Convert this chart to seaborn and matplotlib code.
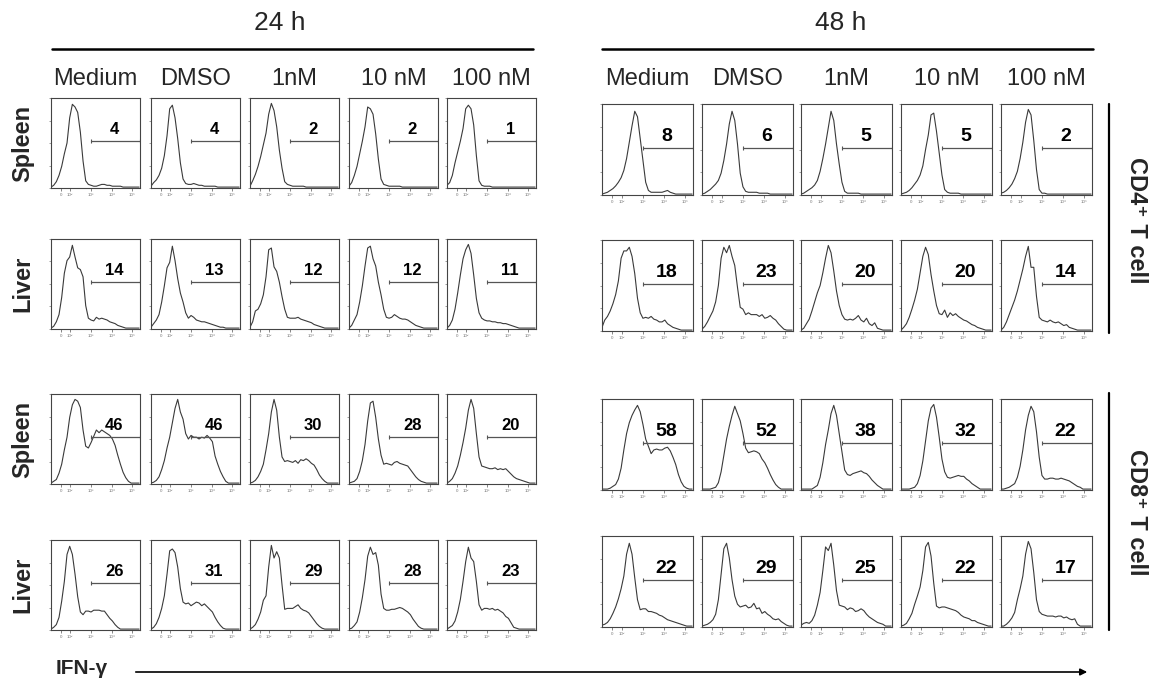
import matplotlib
matplotlib.use("Agg")
import matplotlib.pyplot as plt
import pandas as pd
import seaborn as sns
from matplotlib.lines import Line2D
from matplotlib.patches import FancyArrowPatch

# ---------------- data ----------------
timepoints = ["24 h", "48 h"]
conditions = ["Medium", "DMSO", "1nM", "10 nM", "100 nM"]
tissues = ["Spleen", "Liver", "Spleen", "Liver"]
cell_types = ["CD4\u207a T cell", "CD8\u207a T cell"]
axis_label = "IFN-\u03b3"
tick_labels = ["0", "10\u00b2", "10\u00b3", "10\u2074", "10\u2075"]

# position along the (biexponential) IFN-gamma axis, as a fraction of the panel
x_grid = [0.00, 0.03, 0.06, 0.09, 0.12, 0.15, 0.18, 0.21, 0.24, 0.27, 0.30, 0.33,
          0.36, 0.39, 0.42, 0.45, 0.48, 0.51, 0.54, 0.57, 0.60, 0.63, 0.66, 0.69,
          0.72, 0.75, 0.78, 0.81, 0.84, 0.87, 0.90, 0.93, 0.96, 0.99]

# % of IFN-gamma+ cells (gate values)
pct_cd4_spleen_24h = [4, 4, 2, 2, 1]
pct_cd4_liver_24h = [14, 13, 12, 12, 11]
pct_cd8_spleen_24h = [46, 46, 30, 28, 20]
pct_cd8_liver_24h = [26, 31, 29, 28, 23]
pct_cd4_spleen_48h = [8, 6, 5, 5, 2]
pct_cd4_liver_48h = [18, 23, 20, 20, 14]
pct_cd8_spleen_48h = [58, 52, 38, 32, 22]
pct_cd8_liver_48h = [22, 29, 25, 22, 17]

# histogram heights (% of mode), one list per condition
hist_cd4_spleen_24h = [
    [1, 3, 7, 14, 24, 38, 50, 78, 93, 90, 84, 62, 30, 8, 4, 3, 2, 2, 3, 4, 4, 3, 3, 2, 2, 2, 2, 1, 1, 1, 1, 1, 1, 1],
    [2, 6, 9, 14, 22, 36, 58, 88, 92, 78, 55, 28, 10, 5, 4, 4, 5, 4, 3, 3, 2, 2, 2, 2, 2, 1, 1, 1, 1, 1, 1, 1, 1, 1],
    [2, 8, 15, 24, 35, 48, 61, 82, 94, 86, 68, 42, 22, 7, 4, 3, 2, 2, 2, 2, 2, 1, 1, 1, 1, 1, 1, 1, 1, 1, 1, 1, 1, 1],
    [2, 6, 14, 24, 38, 52, 68, 90, 88, 82, 60, 32, 10, 4, 3, 2, 2, 2, 2, 2, 1, 1, 1, 1, 1, 1, 1, 1, 1, 1, 1, 1, 1, 1],
    [3, 6, 14, 28, 40, 52, 66, 88, 92, 88, 70, 36, 8, 3, 2, 2, 2, 1, 1, 1, 1, 1, 1, 1, 1, 1, 1, 1, 1, 1, 1, 1, 1, 1],
]
hist_cd4_liver_24h = [
    [1, 3, 8, 16, 35, 62, 76, 80, 93, 80, 68, 66, 58, 26, 12, 10, 9, 13, 11, 12, 11, 10, 8, 7, 6, 4, 3, 2, 1, 1, 1, 1, 1, 1],
    [2, 6, 10, 16, 30, 48, 68, 74, 92, 76, 56, 40, 30, 18, 12, 15, 13, 10, 9, 8, 8, 7, 6, 5, 4, 3, 2, 2, 1, 1, 1, 1, 1, 1],
    [2, 8, 20, 22, 28, 38, 58, 88, 90, 69, 64, 52, 36, 22, 13, 12, 12, 12, 13, 11, 10, 9, 8, 7, 5, 4, 3, 2, 1, 1, 1, 1, 1, 1],
    [1, 4, 10, 16, 30, 48, 70, 90, 92, 78, 70, 52, 38, 22, 13, 12, 13, 16, 14, 12, 11, 11, 10, 8, 6, 4, 3, 2, 1, 1, 1, 1, 1, 1],
    [1, 4, 10, 22, 40, 60, 78, 88, 94, 84, 60, 34, 18, 12, 10, 9, 9, 8, 8, 7, 7, 6, 6, 5, 4, 3, 2, 1, 1, 1, 1, 1, 1, 1],
]
hist_cd8_spleen_24h = [
    [1, 3, 5, 12, 22, 38, 52, 74, 88, 94, 92, 85, 60, 42, 40, 46, 53, 60, 57, 60, 58, 56, 54, 50, 43, 32, 22, 13, 7, 3, 1, 1, 1, 1],
    [1, 2, 4, 8, 16, 26, 40, 52, 68, 84, 94, 80, 72, 56, 50, 54, 52, 52, 50, 52, 51, 54, 51, 47, 31, 22, 14, 8, 3, 1, 1, 1, 1, 1],
    [1, 2, 4, 8, 14, 22, 38, 56, 80, 94, 82, 52, 30, 25, 26, 25, 24, 26, 23, 27, 26, 28, 26, 23, 21, 16, 10, 6, 3, 1, 1, 1, 1, 1],
    [1, 2, 3, 6, 14, 26, 44, 70, 90, 92, 74, 50, 32, 22, 23, 22, 21, 24, 25, 23, 22, 21, 20, 16, 12, 8, 5, 3, 2, 1, 1, 1, 1, 1],
    [1, 3, 6, 12, 20, 32, 46, 62, 82, 94, 84, 56, 30, 20, 19, 18, 17, 17, 18, 16, 17, 16, 17, 14, 11, 8, 6, 5, 4, 3, 2, 1, 1, 1],
]
hist_cd8_liver_24h = [
    [1, 3, 6, 14, 32, 54, 84, 93, 84, 62, 37, 20, 17, 21, 21, 20, 22, 22, 22, 21, 21, 17, 13, 10, 6, 3, 1, 1, 1, 1, 1, 1, 1, 1],
    [1, 3, 7, 14, 24, 38, 62, 88, 90, 86, 70, 46, 31, 29, 30, 27, 29, 31, 30, 27, 29, 26, 23, 20, 14, 9, 5, 2, 1, 1, 1, 1, 1, 1],
    [1, 3, 6, 12, 20, 33, 38, 70, 94, 80, 87, 80, 50, 23, 24, 24, 24, 26, 28, 24, 22, 21, 19, 15, 11, 7, 4, 2, 1, 1, 1, 1, 1, 1],
    [1, 2, 5, 9, 20, 36, 56, 82, 92, 84, 86, 72, 40, 24, 22, 22, 23, 23, 24, 25, 24, 22, 20, 17, 12, 8, 4, 2, 1, 1, 1, 1, 1, 1],
    [1, 3, 5, 10, 20, 34, 54, 76, 92, 80, 76, 54, 28, 22, 24, 24, 23, 24, 22, 23, 21, 19, 15, 13, 8, 3, 2, 1, 1, 1, 1, 1, 1, 1],
]
hist_cd4_spleen_48h = [
    [1, 2, 3, 5, 7, 10, 14, 19, 27, 40, 58, 76, 92, 86, 62, 38, 14, 5, 3, 3, 3, 3, 3, 4, 5, 3, 2, 1, 1, 1, 1, 1, 1, 1],
    [1, 2, 4, 6, 9, 12, 16, 24, 38, 56, 78, 92, 82, 56, 24, 9, 4, 3, 3, 3, 3, 2, 2, 2, 2, 1, 1, 1, 1, 1, 1, 1, 1, 1],
    [1, 2, 4, 6, 8, 11, 16, 26, 40, 56, 74, 92, 82, 56, 34, 14, 4, 2, 2, 2, 2, 2, 1, 1, 1, 1, 1, 1, 1, 1, 1, 1, 1, 1],
    [1, 2, 3, 5, 8, 12, 16, 22, 32, 50, 66, 88, 90, 70, 46, 22, 6, 3, 2, 2, 2, 2, 1, 1, 1, 1, 1, 1, 1, 1, 1, 1, 1, 1],
    [2, 3, 5, 8, 12, 18, 26, 40, 58, 80, 94, 88, 60, 28, 6, 2, 2, 1, 1, 1, 1, 1, 1, 1, 1, 1, 1, 1, 1, 1, 1, 1, 1, 1],
]
hist_cd4_liver_48h = [
    [4, 12, 16, 22, 30, 40, 55, 80, 88, 88, 92, 82, 63, 36, 20, 14, 15, 14, 16, 13, 12, 10, 10, 12, 8, 6, 4, 3, 2, 1, 1, 1, 1, 1],
    [2, 5, 10, 16, 22, 32, 50, 80, 92, 86, 94, 82, 72, 48, 26, 24, 18, 20, 18, 18, 18, 16, 18, 14, 15, 17, 14, 12, 8, 5, 2, 1, 1, 1],
    [1, 3, 8, 13, 22, 32, 42, 50, 64, 80, 94, 86, 66, 44, 28, 18, 13, 12, 13, 12, 14, 17, 12, 10, 14, 8, 6, 9, 3, 2, 1, 1, 1, 1],
    [1, 4, 8, 15, 24, 34, 46, 64, 82, 92, 84, 62, 44, 28, 19, 18, 23, 15, 20, 17, 19, 16, 14, 12, 11, 9, 7, 6, 4, 3, 2, 1, 1, 1],
    [1, 4, 10, 18, 26, 34, 44, 56, 68, 82, 93, 70, 70, 38, 15, 12, 11, 10, 12, 10, 9, 10, 8, 6, 7, 4, 3, 2, 1, 1, 1, 1, 1, 1],
]
hist_cd8_spleen_48h = [
    [1, 1, 1, 2, 4, 6, 12, 24, 44, 62, 74, 82, 88, 93, 86, 72, 56, 48, 40, 44, 45, 44, 44, 46, 47, 43, 36, 28, 17, 9, 4, 2, 1, 1],
    [1, 1, 1, 1, 2, 3, 8, 20, 38, 56, 70, 82, 92, 84, 76, 62, 46, 41, 42, 43, 42, 40, 34, 30, 24, 17, 11, 6, 3, 1, 1, 1, 1, 1],
    [1, 1, 1, 1, 1, 3, 5, 14, 30, 50, 66, 84, 93, 82, 62, 42, 22, 17, 16, 18, 19, 20, 21, 19, 18, 15, 11, 8, 5, 3, 1, 1, 1, 1],
    [1, 1, 1, 1, 2, 3, 7, 16, 32, 54, 76, 90, 94, 80, 58, 34, 20, 14, 13, 14, 15, 16, 15, 15, 12, 10, 7, 5, 3, 1, 1, 1, 1, 1],
    [1, 1, 2, 3, 5, 7, 14, 26, 44, 66, 82, 92, 86, 64, 36, 16, 12, 12, 13, 13, 12, 12, 13, 12, 11, 10, 8, 6, 4, 3, 1, 1, 1, 1],
]
hist_cd8_liver_48h = [
    [2, 3, 5, 9, 15, 22, 31, 42, 56, 80, 92, 80, 54, 30, 19, 20, 20, 17, 17, 16, 15, 13, 12, 10, 8, 7, 6, 5, 4, 3, 2, 1, 1, 1],
    [1, 2, 3, 5, 8, 14, 30, 58, 86, 92, 76, 52, 34, 25, 22, 23, 24, 21, 22, 26, 20, 21, 15, 17, 14, 12, 9, 8, 9, 6, 4, 2, 1, 1],
    [2, 4, 5, 4, 7, 13, 24, 38, 62, 88, 84, 92, 68, 40, 24, 23, 22, 19, 21, 20, 17, 18, 20, 18, 14, 11, 9, 7, 5, 4, 3, 1, 1, 1],
    [1, 2, 4, 9, 15, 25, 34, 44, 62, 88, 93, 78, 48, 23, 21, 22, 22, 21, 20, 19, 18, 16, 13, 11, 10, 9, 7, 7, 5, 4, 3, 2, 1, 1],
    [1, 1, 3, 6, 10, 16, 30, 42, 56, 80, 94, 86, 60, 30, 17, 14, 13, 12, 12, 12, 11, 12, 12, 10, 11, 9, 8, 9, 3, 1, 1, 1, 1, 1],
]

# ---------------- layout ----------------
sns.set_style("white")
plt.rcParams["font.family"] = ["Liberation Sans", "DejaVu Sans"]

W, H = 1154, 685
fig = plt.figure(figsize=(W / 100, H / 100), dpi=100)


def fx(px):
    return px / W


def fy(py):
    return 1 - py / H


col_left = {"24 h": [51, 151, 250, 349, 447], "48 h": [602, 702, 801, 901, 1001]}
col_w = {"24 h": 89, "48 h": 91}
row_top = {"24 h": [98, 239, 394, 540], "48 h": [104, 240, 399, 536]}
row_h = {"24 h": 90, "48 h": 91}
num_size = {"24 h": 12, "48 h": 14}

tick_pos = [0.115, 0.215, 0.45, 0.685, 0.915]
gate_start, gate_y = 0.455, 52

hists = {
    ("24 h", 0): (hist_cd4_spleen_24h, pct_cd4_spleen_24h),
    ("24 h", 1): (hist_cd4_liver_24h, pct_cd4_liver_24h),
    ("24 h", 2): (hist_cd8_spleen_24h, pct_cd8_spleen_24h),
    ("24 h", 3): (hist_cd8_liver_24h, pct_cd8_liver_24h),
    ("48 h", 0): (hist_cd4_spleen_48h, pct_cd4_spleen_48h),
    ("48 h", 1): (hist_cd4_liver_48h, pct_cd4_liver_48h),
    ("48 h", 2): (hist_cd8_spleen_48h, pct_cd8_spleen_48h),
    ("48 h", 3): (hist_cd8_liver_48h, pct_cd8_liver_48h),
}

line_col = "#3a3a3a"
for (tp, r), (curves, pcts) in hists.items():
    for c in range(5):
        l, t, w, h = col_left[tp][c], row_top[tp][r], col_w[tp], row_h[tp]
        ax = fig.add_axes([fx(l), fy(t + h), w / W, h / H])
        df = pd.DataFrame({"x": x_grid, "y": curves[c]})
        sns.lineplot(data=df, x="x", y="y", ax=ax, color=line_col,
                     linewidth=0.8, estimator=None)
        ax.set_xlim(0, 1)
        ax.set_ylim(0, 100)
        ax.set_xlabel("")
        ax.set_ylabel("")
        ax.set_xticks(tick_pos)
        ax.set_xticklabels(tick_labels, fontsize=3.2, color="#777777")
        ax.set_yticks([0, 25, 50, 75, 100])
        ax.set_yticklabels([])
        ax.tick_params(axis="x", length=2, width=0.5, pad=1.5, color="#555555",
                       bottom=True, direction="out")
        ax.tick_params(axis="y", length=1.5, width=0.5, color="#777777",
                       left=True, direction="out")
        for s in ax.spines.values():
            s.set_linewidth(0.8)
            s.set_color("#444444")
        # gate
        ax.plot([gate_start, 0.995], [gate_y, gate_y], color="#555555", lw=0.9,
                marker="|", markersize=3, markeredgewidth=0.8)
        ax.text(0.71, 0.645, str(pcts[c]), transform=ax.transAxes,
                ha="center", va="center", fontsize=num_size[tp],
                fontweight="bold", color="black")

# column headers
for tp in timepoints:
    for c, name in enumerate(conditions):
        cx = col_left[tp][c] + col_w[tp] / 2
        fig.text(fx(cx), fy(79), name, ha="center", va="center", fontsize=17)

# time titles and lines
fig.text(fx(280), fy(23), "24 h", ha="center", va="center", fontsize=19)
fig.text(fx(841), fy(23), "48 h", ha="center", va="center", fontsize=19)
fig.add_artist(Line2D([fx(52), fx(533)], [fy(49), fy(49)], color="black", lw=1.8))
fig.add_artist(Line2D([fx(602), fx(1093)], [fy(49), fy(49)], color="black", lw=1.8))

# row labels
row_centers = [143, 284, 439, 585]
for r, name in enumerate(tissues):
    fig.text(fx(23), fy(row_centers[r]), name, rotation=90, ha="center",
             va="center", fontsize=17, fontweight="bold")

# cell type brackets
fig.add_artist(Line2D([fx(1109), fx(1109)], [fy(104), fy(333)], color="black", lw=1.6))
fig.add_artist(Line2D([fx(1109), fx(1109)], [fy(393), fy(630)], color="black", lw=1.6))
fig.text(fx(1136), fy(220), cell_types[0], rotation=270, ha="center",
         va="center", fontsize=17, fontweight="bold")
fig.text(fx(1136), fy(512), cell_types[1], rotation=270, ha="center",
         va="center", fontsize=17, fontweight="bold")

# IFN-gamma axis arrow
fig.text(fx(56), fy(668), axis_label, ha="left", va="center", fontsize=15,
         fontweight="bold")
fig.add_artist(FancyArrowPatch((fx(133), fy(672)), (fx(1090), fy(672)),
                               transform=fig.transFigure, arrowstyle="-|>",
                               mutation_scale=10, lw=1.2, color="black"))

fig.savefig("out.png", dpi=100)
